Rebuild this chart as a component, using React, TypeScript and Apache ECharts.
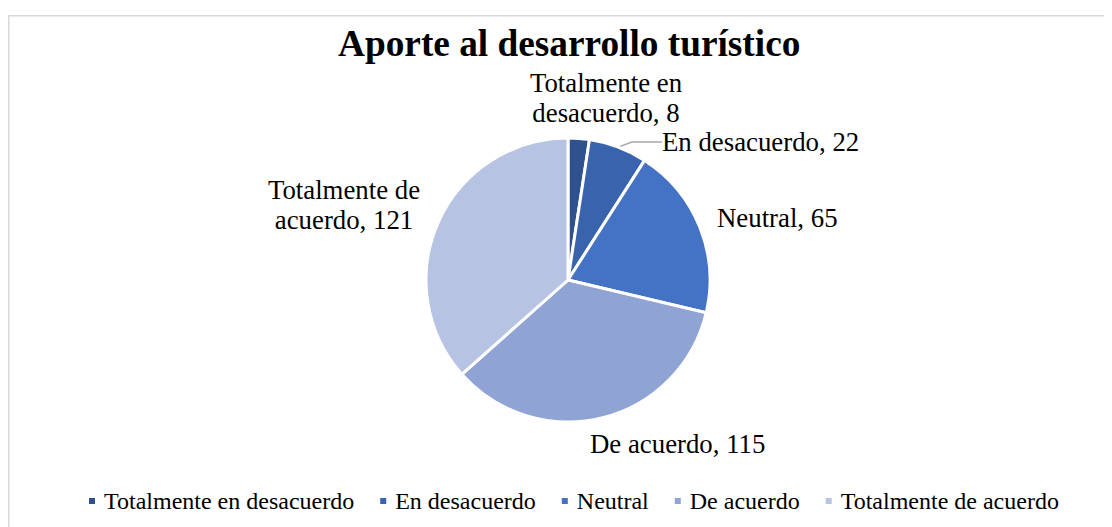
import React, { useEffect, useRef } from "react";
import * as echarts from "echarts";

const title = "Aporte al desarrollo turístico";
const categories = [
  "Totalmente en desacuerdo",
  "En desacuerdo",
  "Neutral",
  "De acuerdo",
  "Totalmente de acuerdo",
];
const values = [8, 22, 65, 115, 121];
const colors = ["#2F528F", "#3A63AD", "#4472C4", "#8FA4D4", "#B7C3E2"];
const labelTexts = [
  "Totalmente en\ndesacuerdo, 8",
  "En desacuerdo, 22",
  "Neutral, 65",
  "De acuerdo, 115",
  "Totalmente de\nacuerdo, 121",
];

const FONT = "'Liberation Serif', 'Times New Roman', serif";

export default function App() {
  const ref = useRef<HTMLDivElement>(null);
  useEffect(() => {
    if (!ref.current) return;
    const chart = echarts.init(ref.current, undefined, { renderer: "svg" });
    const labelPos = [
      { x: 598, y: 90, align: "center" },
      { x: 654, y: 134, align: "left" },
      { x: 709, y: 210, align: "left" },
      { x: 582, y: 436, align: "left" },
      { x: 336, y: 197, align: "center" },
    ];
    chart.setOption({
      animation: false,
      backgroundColor: "#ffffff",
      textStyle: { fontFamily: FONT },
      graphic: [
        {
          type: "rect",
          shape: { x: 0.75, y: 7.8, width: 1300, height: 700 },
          style: { fill: "none", stroke: "#d9d9d9", lineWidth: 1.5 },
          silent: true,
        },
      ],
      title: {
        text: title,
        left: 325,
        top: 12,
        textStyle: {
          fontFamily: FONT,
          fontSize: 37.3,
          fontWeight: "bold",
          color: "#000000",
        },
      },
      legend: {
        top: 476,
        left: 74,
        itemWidth: 8,
        itemHeight: 8,
        itemGap: 24,
        icon: "rect",
        textStyle: {
          fontFamily: FONT,
          fontSize: 24,
          color: "#000000",
          padding: [0, 0, 0, 3],
        },
        data: categories,
      },
      series: [
        {
          type: "pie",
          center: [560, 272],
          radius: 142,
          startAngle: 90,
          clockwise: true,
          itemStyle: { borderColor: "#ffffff", borderWidth: 3 },
          label: {
            show: true,
            position: "outside",
            fontFamily: FONT,
            fontSize: 26.8,
            lineHeight: 30,
            color: "#000000",
            align: "center",
          },
          labelLine: { show: false },
          labelLayout: (params: any) => {
            const p = labelPos[params.dataIndex];
            return {
              x: p.x,
              y: p.y,
              align: p.align,
              verticalAlign: "middle",
            };
          },
          data: categories.map((c, i) => ({
            name: c,
            value: values[i],
            itemStyle: { color: colors[i] },
            label: { formatter: labelTexts[i] },
            labelLine:
              i === 1
                ? {
                    show: true,
                    length: 8,
                    length2: 30,
                    lineStyle: { color: "#a6a6a6", width: 1.5 },
                  }
                : { show: false },
          })),
        },
      ],
    });
    return () => chart.dispose();
  }, []);
  return <div ref={ref} style={{ width: 1104, height: 519 }} />;
}
